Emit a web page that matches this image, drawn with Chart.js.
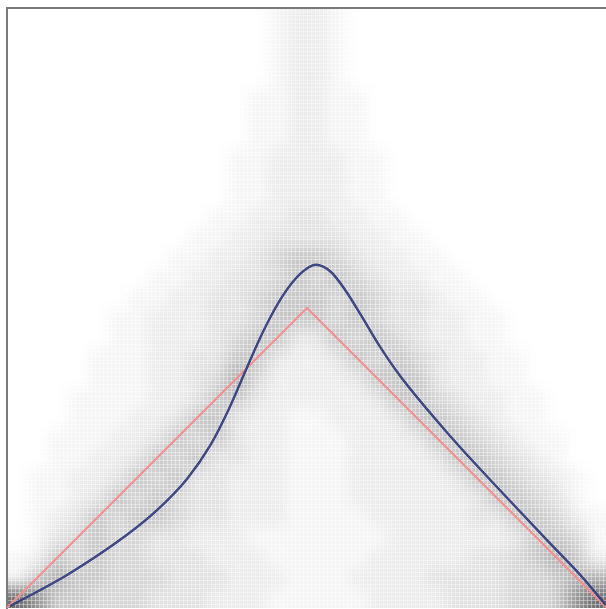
<!DOCTYPE html>
<html>
<head>
<meta charset="utf-8">
<script src="https://cdn.jsdelivr.net/npm/chart.js@4.4.1/dist/chart.umd.min.js"></script>
<style>
  html, body { margin: 0; padding: 0; background: #ffffff; overflow: hidden; }
  #wrap { position: absolute; left: 0; top: 0; width: 620px; height: 620px; }
</style>
</head>
<body>
<div id="wrap"><canvas id="c" width="620" height="620"></canvas></div>
<script>
// ---- data ----
// true function (red)
const redX = [0, 0.5, 1];
const redY = [0, 0.5, 0];

// estimated mean curve (blue)
const blueX = [0.005, 0.10, 0.20, 0.25, 0.30, 0.34, 0.37, 0.40, 0.43, 0.46, 0.49, 0.515, 0.54, 0.565, 0.59, 0.62, 0.655, 0.74, 0.82, 0.90, 0.96, 0.998];
const blueY = [0.003, 0.055, 0.122, 0.163, 0.215, 0.273, 0.332, 0.401, 0.467, 0.521, 0.558, 0.572, 0.560, 0.528, 0.488, 0.438, 0.387, 0.285, 0.198, 0.113, 0.050, 0.005];

// density shading, rows from y=1 (top) to y=0 (bottom), columns x=0..1; 0 = white, 9 = darkest
const densityRows = [
  "000000000000012210000000000000",
  "000000000000012210000000000000",
  "000000000000012210000000000000",
  "000000000000012210000000000000",
  "000000000000112211000000000000",
  "000000000000112211000000000000",
  "000000000000112211000000000000",
  "000000000001122221100000000000",
  "000000000001122221100000000000",
  "000000000001122221100000000000",
  "000000000011223322110000000000",
  "000000000112233332211000000000",
  "000000001122345543221100000000",
  "000000011223345454322110000000",
  "000000112233455545433211000000",
  "000001122233455545433221100000",
  "000001122234553354543221100000",
  "000011122335532235454322110000",
  "000011122346422223555322110000",
  "000111122355322222355432211000",
  "000111223553221122235543211000",
  "001112235453221112223554321100",
  "001122354533221112222355432100",
  "011223545332221112222235543210",
  "011235454332221112222223554310",
  "012354554332221111222223355421",
  "013454433222111111122222235541",
  "125454433322211111222223345652",
  "256554443332221112222333344566",
  "875544433322211111222233344578"
];
const grayLevels = [255, 246, 236, 226, 214, 200, 180, 150, 115, 75];

// ---- heatmap plugin: draws the density grid inside the scale extents ----
const heatPlugin = {
  id: 'heat',
  beforeDraw(chart) {
    const { ctx, scales } = chart;
    const xs = scales.x, ys = scales.y;
    const rows = densityRows.length, cols = densityRows[0].length;
    const off = document.createElement('canvas');
    off.width = cols; off.height = rows;
    const octx = off.getContext('2d');
    const img = octx.createImageData(cols, rows);
    for (let r = 0; r < rows; r++) {
      for (let c = 0; c < cols; c++) {
        const g = grayLevels[+densityRows[r][c]];
        const i = (r * cols + c) * 4;
        img.data[i] = g; img.data[i + 1] = g; img.data[i + 2] = g; img.data[i + 3] = 255;
      }
    }
    octx.putImageData(img, 0, 0);
    const left = xs.getPixelForValue(0), right = xs.getPixelForValue(1);
    const top = ys.getPixelForValue(1), bottom = ys.getPixelForValue(0);
    ctx.save();
    ctx.imageSmoothingEnabled = true;
    ctx.imageSmoothingQuality = 'high';
    ctx.drawImage(off, left, top, right - left, bottom - top);
    ctx.restore();
  }
};

const toPts = (xs, ys) => xs.map((v, i) => ({ x: v, y: ys[i] }));

new Chart(document.getElementById('c'), {
  type: 'line',
  data: {
    datasets: [
      {
        label: 'mean',
        data: toPts(blueX, blueY),
        borderColor: 'rgba(52,62,128,0.95)',
        borderWidth: 2.4,
        pointRadius: 0,
        cubicInterpolationMode: 'monotone',
        fill: false
      },
      {
        label: 'true',
        data: toPts(redX, redY),
        borderColor: '#f09090',
        borderWidth: 2,
        pointRadius: 0,
        tension: 0,
        fill: false
      }
    ]
  },
  options: {
    responsive: false,
    animation: false,
    layout: { padding: { left: 7, top: 8, right: 13, bottom: 12 } },
    plugins: { legend: { display: false }, tooltip: { enabled: false } },
    scales: {
      x: {
        type: 'linear', position: 'top', min: 0, max: 1,
        ticks: { display: false, stepSize: 1 / 150 },
        grid: { color: 'rgba(255,255,255,0.38)', lineWidth: 1, drawTicks: false },
        border: { display: true, color: '#7a7a7a', width: 2 }
      },
      y: {
        type: 'linear', position: 'left', min: 0, max: 1,
        ticks: { display: false, stepSize: 1 / 150 },
        grid: { color: 'rgba(255,255,255,0.38)', lineWidth: 1, drawTicks: false },
        border: { display: true, color: '#7a7a7a', width: 2 }
      }
    }
  },
  plugins: [heatPlugin]
});
</script>
</body>
</html>
